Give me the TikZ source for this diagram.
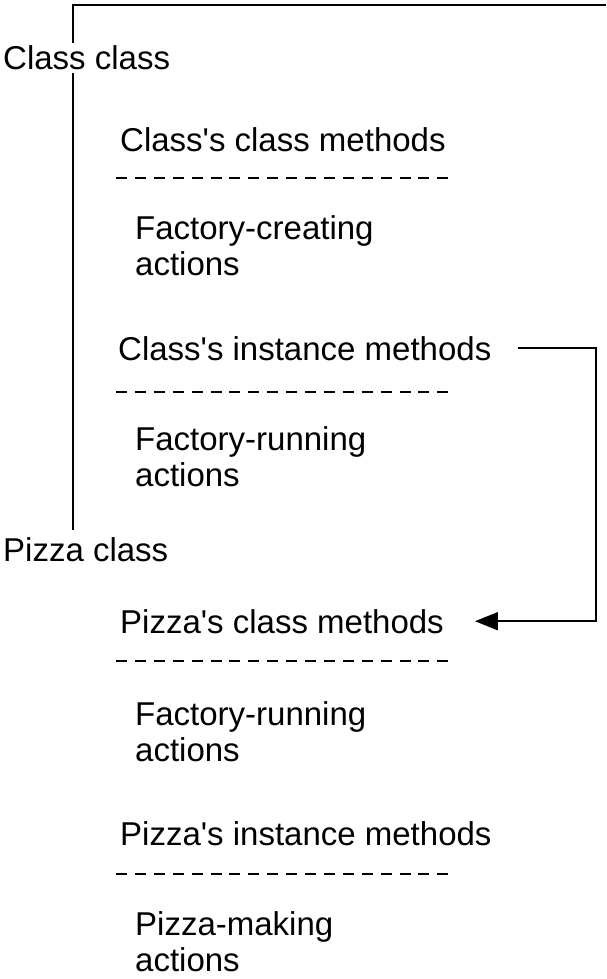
\documentclass[tikz,border=0pt]{standalone}
\usepackage{fontspec}
\setmainfont{Liberation Sans}[Ligatures=TeXOff]
\usetikzlibrary{arrows.meta,calc}
\begin{document}
\begin{tikzpicture}[x=1pt,y=-1pt,
  lbl/.style={inner sep=0pt,anchor=base west,font=\fontsize{33}{36}\selectfont},
  sep/.style={line width=1.8pt,dash pattern=on 11pt off 7.9pt},
  conn/.style={line width=2pt},
]
\useasboundingbox (0,0) rectangle (606,979);
\coordinate (tr) at (606,5);
\coordinate (tl) at (73,5);
\coordinate (vb) at (73,530);
\draw[conn] (tr) -- (tl) -- (vb);
\node[lbl,fill=white,inner ysep=3pt] (cc) at (3,70) {Class class};
\node[lbl] (ccm) at (120,151) {Class's class methods};
\draw[sep] (116,178) -- (448,178);
\node[lbl] (fc1) at (135,239) {Factory-creating};
\node[lbl] (fc2) at (135,275) {actions};
\node[lbl] (cim) at (118,360) {Class's instance methods};
\draw[sep] (116,392) -- (448,392);
\node[lbl] (fr1) at (135,450) {Factory-running};
\node[lbl] (fr2) at (135,486) {actions};
\node[lbl] (pc) at (3,561) {Pizza class};
\node[lbl] (pcm) at (120,633) {Pizza's class methods};
\draw[sep] (116,661) -- (448,661);
\node[lbl] (pr1) at (135,725) {Factory-running};
\node[lbl] (pr2) at (135,761) {actions};
\node[lbl] (pim) at (120,845) {Pizza's instance methods};
\draw[sep] (116,874) -- (448,874);
\node[lbl] (pm1) at (135,935) {Pizza-making};
\node[lbl] (pm2) at (135,971) {actions};
\coordinate (cs) at ($(cim.east)+(26,0)$);
\coordinate (ce) at ($(pcm.east)+(31,0)$);
\draw[conn,-{Triangle[length=23pt,width=18pt]}] (cs) -- (596,0 |- cs) |- (ce);
\end{tikzpicture}
\end{document}
